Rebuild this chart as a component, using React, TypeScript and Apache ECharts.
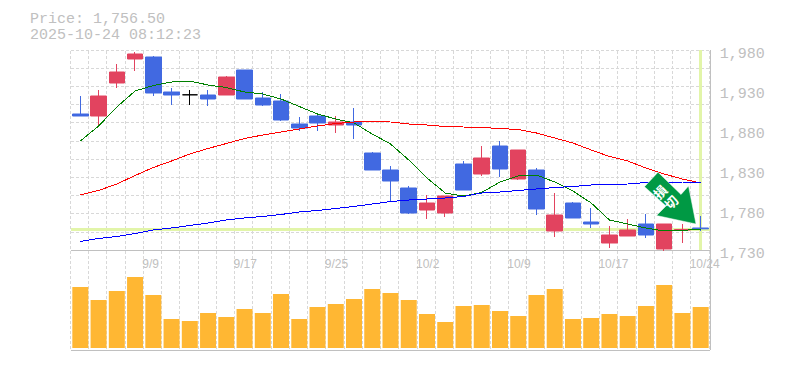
import React, { useEffect, useRef } from "react";
import * as echarts from "echarts";

const dates = ["9/3","9/4","9/5","9/8","9/9","9/10","9/11","9/12","9/16","9/17","9/18","9/19","9/22","9/24","9/25","9/26","9/29","9/30","10/1","10/2","10/3","10/6","10/7","10/8","10/9","10/10","10/14","10/15","10/16","10/17","10/20","10/21","10/22","10/23","10/24"];
const labelled = ["9/9","9/17","9/25","10/2","10/9","10/17","10/24"];
const opens = [1900,1897.5,1938.75,1968.75,1971.25,1927.5,1924,1923.75,1923.75,1955,1920,1916.25,1887.5,1897.5,1886.25,1890,1851.25,1830,1807.5,1780,1776.25,1837.5,1825,1860,1818.75,1830,1753.75,1788.75,1765,1738.75,1747.5,1762.5,1731.25,1755,1757.5];
const closes = [1897.5,1922.5,1952.5,1975,1926.25,1923.75,1924,1918.75,1946.25,1918.75,1911.25,1892.5,1882.5,1888.75,1890,1886.25,1830,1816.25,1776.25,1788.75,1797.5,1805,1845,1831.25,1855,1781.25,1773.75,1770,1762.5,1748.75,1755,1748.75,1762.5,1755.5,1756.5];
const lows = [1897.5,1886.25,1932.5,1953.75,1922.5,1911.25,1911.25,1910,1923.75,1918.75,1910,1891.25,1878.75,1878.75,1876.25,1868.75,1830,1791.25,1775,1768.75,1771.25,1805,1822.5,1821.25,1817.5,1773.75,1746.25,1770,1757.5,1732.5,1747.5,1745,1728.75,1738.75,1753.75];
const highs = [1922.5,1930,1962.5,1977.5,1972.5,1932.5,1930,1930,1947.5,1955,1927.5,1925,1896.25,1898.75,1897.5,1907.5,1852.5,1835,1810,1798.75,1797.5,1841.25,1860,1866.25,1855,1832.5,1801.25,1790,1782.5,1760,1768.75,1775,1762.5,1762.5,1772.5];
const maShort = [1866.25,1885,1908.75,1928.75,1935.6,1940,1941.25,1936.25,1933.1,1927.5,1925,1918.75,1909.4,1900,1893.75,1888.75,1875,1862.5,1842.5,1820,1801.25,1797.5,1801.9,1815,1822.5,1823.75,1815,1803.75,1788.75,1767.5,1762.5,1757.5,1753.75,1754.4,1756.25];
const maMid = [1798.75,1804.4,1812.5,1823.1,1833.1,1841.25,1850,1856.9,1863.1,1869.4,1873.75,1877.5,1881.25,1885,1888.1,1890,1890.6,1890,1887.5,1886.25,1884.4,1883.75,1883.1,1881.9,1880.6,1876.25,1870,1863.75,1855,1846.9,1841.25,1832.5,1825,1818.75,1813.75];
const maLong = [1740.6,1744.4,1746.9,1750.6,1755,1757.5,1760.6,1763.75,1767.5,1770,1771.9,1774.4,1777.5,1779.4,1781.9,1784.4,1787.5,1790.6,1792.5,1793.75,1795,1796.9,1801.25,1802.5,1804.4,1806.25,1808.1,1809.4,1811.25,1812,1812.5,1814.4,1815,1815,1814.4];
const volumes = [61,48,57,71,53,29,27,35,31,39,35,54,29,41,44,49,59,55,48,34,26,42,43,37,32,53,59,29,30,34,32,42,63,35,41];
const lastPrice = 1756.5;
const titleLines = ["Price: 1,756.50", "2025-10-24 08:12:23"];
const badgeChars = ["\u640d", "\u5207"];

const GRAY = "#c0c0c0";
const GRID = "#d8d8d8";
const MONO = '"Liberation Mono", monospace';

export default function App() {
  const ref = useRef<HTMLDivElement>(null);
  useEffect(() => {
    const chart = echarts.init(ref.current!, undefined, { renderer: "svg" });
    const hidden = { axisLine: { show: false }, axisTick: { show: false }, axisLabel: { show: false }, splitLine: { show: false } };
    const dash = { show: true, lineStyle: { color: GRID, type: [3, 2] as any, width: 1 } };
    chart.setOption({
      animation: false,
      backgroundColor: "#fff",
      grid: [
        { left: 71.2, top: 50, width: 638.6, height: 200 },
        { left: 71.2, top: 250, width: 638.6, height: 100 },
        { left: 70.2, top: 51, width: 638.6, height: 299 },
        { left: 60.2, top: 50, width: 638.6, height: 200 },
        { left: 71.2, top: 54, width: 638.6, height: 200 },
      ],
      xAxis: [
        { gridIndex: 0, type: "category", data: dates, ...hidden, axisLine: { show: true, onZero: false, lineStyle: { color: GRAY } } },
        { gridIndex: 1, type: "category", data: dates, ...hidden, axisLine: { show: true, onZero: false, lineStyle: { color: GRAY } } },
        { gridIndex: 2, type: "category", data: dates, ...hidden, splitLine: { ...dash, interval: 0 } },
        {
          gridIndex: 3, type: "category", data: dates,
          axisLine: { show: false }, axisTick: { show: false }, splitLine: { show: false },
          axisLabel: {
            show: true, interval: 0, align: "left", margin: 8,
            fontFamily: '"Liberation Sans", sans-serif', fontSize: 12, color: GRAY,
            formatter: (v: string) => (labelled.includes(v) ? v : ""),
          },
        },
        { gridIndex: 4, type: "category", data: dates, ...hidden },
      ],
      yAxis: [
        { gridIndex: 0, type: "value", position: "right", min: 1730, max: 1980, interval: 50, ...hidden, axisLine: { show: true, lineStyle: { color: GRAY } } },
        { gridIndex: 0, type: "value", min: 0, max: 11, interval: 1, ...hidden, splitLine: dash },
        { gridIndex: 1, type: "value", position: "right", min: -2, max: 98, ...hidden, axisLine: { show: true, onZero: false, lineStyle: { color: GRAY } } },
        { gridIndex: 2, type: "value", min: 0, max: 1, ...hidden },
        { gridIndex: 3, type: "value", min: 0, max: 1, ...hidden },
        {
          gridIndex: 4, type: "value", position: "right", min: 1730, max: 1980, interval: 50,
          axisLine: { show: false }, axisTick: { show: false }, splitLine: { show: false },
          axisLabel: {
            margin: 10, fontFamily: MONO, fontSize: 15, color: GRAY,
            formatter: (v: number) => v.toLocaleString("en-US"),
          },
        },
      ],
      series: [
        {
          type: "line", xAxisIndex: 0, yAxisIndex: 0, data: [], z: 1, silent: true,
          markLine: {
            z: 1, silent: true, symbol: "none", label: { show: false },
            lineStyle: { color: "#e2f5a9", type: "solid", width: 3 },
            data: [{ yAxis: lastPrice }, { xAxis: dates.length - 1 }],
          },
        },
        {
          type: "candlestick", xAxisIndex: 0, yAxisIndex: 0, barWidth: 16, clip: false, z: 3,
          itemStyle: { color: "#e2435f", borderColor: "#e2435f", color0: "#4169e1", borderColor0: "#4169e1", borderWidth: 1 },
          data: dates.map((_, i) => {
            const value = [opens[i], closes[i], lows[i], highs[i]];
            return opens[i] === closes[i]
              ? { value, itemStyle: { borderColor: "#000", borderColorDoji: "#000", color: "#000", color0: "#000", borderColor0: "#000" } }
              : value;
          }),
        },
        ...[[maShort, "#008000"], [maMid, "#ff0000"], [maLong, "#0000ff"]].map(([d, c]) => ({
          type: "line", xAxisIndex: 0, yAxisIndex: 0, data: d, symbol: "none", z: 4, silent: true,
          lineStyle: { color: c, width: 1 },
        })),
        {
          type: "bar", xAxisIndex: 1, yAxisIndex: 2, data: volumes, barWidth: 16, z: 3, silent: true,
          itemStyle: { color: "#ffb733" },
        },
      ],
      graphic: [
        { type: "text", left: 30, top: 11, silent: true, style: { text: titleLines.join("\n"), font: `15px ${MONO}`, lineHeight: 16, fill: GRAY } },
        {
          type: "polygon", silent: true, z: 50,
          shape: { points: [[644.5, 186.7], [658, 172.2], [681, 194.5], [688.5, 186], [696, 224], [656.5, 215.5], [666, 206]] },
          style: { fill: "#009944", stroke: "#fff", lineWidth: 0.5 },
        },
        { type: "text", x: 660, y: 191.7, rotation: Math.PI / 4, z: 51, silent: true, style: { text: badgeChars[0], font: 'bold 13px "Noto Sans CJK JP"', fill: "#fff", align: "center", verticalAlign: "middle" } },
        { type: "text", x: 671, y: 202, rotation: Math.PI / 4, z: 51, silent: true, style: { text: badgeChars[1], font: 'bold 13px "Noto Sans CJK JP"', fill: "#fff", align: "center", verticalAlign: "middle" } },
      ],
    });
    ref.current!.querySelectorAll('path[fill="none"]').forEach((p) => p.setAttribute("shape-rendering", "crispEdges"));
    return () => chart.dispose();
  }, []);
  return <div ref={ref} style={{ width: 785, height: 370, position: "absolute", left: 0, top: 0 }} />;
}
